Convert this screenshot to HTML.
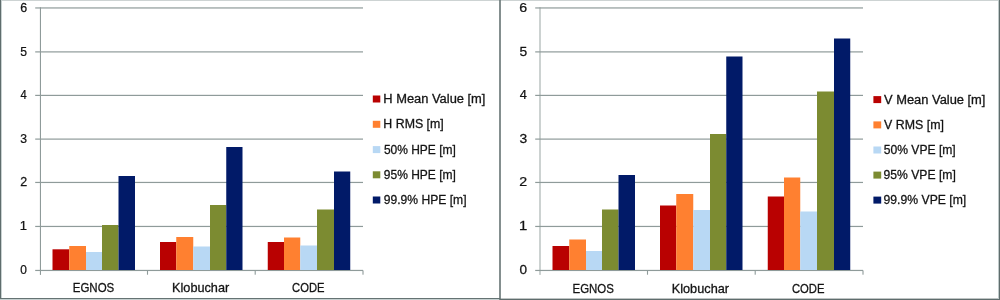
<!DOCTYPE html>
<html><head><meta charset="utf-8"><title>chart</title>
<style>
html,body{margin:0;padding:0;background:#fff;}
body{width:1000px;height:300px;overflow:hidden;}
svg{display:block;}
.tx{opacity:0.999;}
.t{font-family:"Liberation Sans",sans-serif;font-size:12px;fill:#141414;stroke:#141414;stroke-width:0.28px;}
.t.d{stroke-width:0.25px;}
</style></head><body>
<svg width="1000" height="300" viewBox="0 0 1000 300">
<rect width="1000" height="300" fill="#ffffff"/>
<g class="tx">
<rect x="35.2" y="269.85" width="327.8" height="1.2" fill="#8f9b9a"/>
<rect x="35.2" y="225.85" width="327.8" height="1.2" fill="#8f9b9a"/>
<rect x="35.2" y="181.85" width="327.8" height="1.2" fill="#8f9b9a"/>
<rect x="35.2" y="138.50" width="327.8" height="1.2" fill="#8f9b9a"/>
<rect x="35.2" y="94.80" width="327.8" height="1.2" fill="#8f9b9a"/>
<rect x="35.2" y="51.30" width="327.8" height="1.2" fill="#8f9b9a"/>
<rect x="35.2" y="7.35" width="327.8" height="1.2" fill="#8f9b9a"/>
<rect x="39.9" y="7.3" width="1.1" height="267.60" fill="#8f9b9a"/>
<rect x="146.95" y="270.4" width="1.1" height="4.3" fill="#8f9b9a"/>
<rect x="254.65" y="270.4" width="1.1" height="4.3" fill="#8f9b9a"/>
<rect x="362.45" y="270.4" width="1.1" height="4.3" fill="#8f9b9a"/>
<rect x="52.50" y="249.3" width="16.75" height="20.70" fill="#b90000"/>
<rect x="69.25" y="246" width="16.75" height="24.00" fill="#ff8030"/>
<rect x="86.00" y="252" width="16.00" height="18.00" fill="#b8d8f4"/>
<rect x="102.00" y="225" width="16.50" height="45.00" fill="#7c8b31"/>
<rect x="118.50" y="176" width="16.50" height="94.00" fill="#001a68"/>
<rect x="160.00" y="242" width="16.25" height="28.00" fill="#b90000"/>
<rect x="176.25" y="237" width="17.00" height="33.00" fill="#ff8030"/>
<rect x="193.25" y="246.5" width="16.75" height="23.50" fill="#b8d8f4"/>
<rect x="210.00" y="205" width="16.25" height="65.00" fill="#7c8b31"/>
<rect x="226.25" y="147" width="16.25" height="123.00" fill="#001a68"/>
<rect x="267.75" y="242" width="16.25" height="28.00" fill="#b90000"/>
<rect x="284.00" y="237.5" width="16.25" height="32.50" fill="#ff8030"/>
<rect x="300.25" y="245.5" width="16.75" height="24.50" fill="#b8d8f4"/>
<rect x="317.00" y="209.5" width="17.00" height="60.50" fill="#7c8b31"/>
<rect x="334.00" y="171.5" width="16.25" height="98.50" fill="#001a68"/>
<text transform="translate(20.30,274.40) scale(0.9913,1)" class="t d">0</text>
<text transform="translate(19.85,230.40) scale(1.0857,1)" class="t d">1</text>
<text transform="translate(20.15,186.40) scale(1.0364,1)" class="t d">2</text>
<text transform="translate(20.29,143.05) scale(1.0133,1)" class="t d">3</text>
<text transform="translate(20.57,99.35) scale(0.9306,1)" class="t d">4</text>
<text transform="translate(20.29,55.85) scale(1.0133,1)" class="t d">5</text>
<text transform="translate(20.15,11.90) scale(1.0364,1)" class="t d">6</text>
<text transform="translate(72.74,292.10) scale(0.9581,1)" class="t">EGNOS</text>
<text transform="translate(172.04,292.10) scale(1.0591,1)" class="t">Klobuchar</text>
<text transform="translate(292.12,292.10) scale(0.9343,1)" class="t">CODE</text>
<rect x="372.8" y="95.50" width="7.50" height="7.0" fill="#b90000"/>
<text transform="translate(383.33,102.90) scale(1.0745,1)" class="t">H Mean Value [m]</text>
<rect x="372.8" y="120.80" width="7.50" height="7.0" fill="#ff8030"/>
<text transform="translate(383.37,128.20) scale(1.0303,1)" class="t">H RMS [m]</text>
<rect x="372.8" y="146.10" width="7.50" height="7.0" fill="#b8d8f4"/>
<text transform="translate(383.90,153.50) scale(0.9996,1)" class="t">50% HPE [m]</text>
<rect x="372.8" y="171.30" width="7.50" height="7.0" fill="#7c8b31"/>
<text transform="translate(383.77,178.70) scale(1.0014,1)" class="t">95% HPE [m]</text>
<rect x="372.8" y="196.50" width="7.50" height="7.0" fill="#001a68"/>
<text transform="translate(383.77,203.90) scale(1.0099,1)" class="t">99.9% HPE [m]</text>
<rect x="535.2" y="269.85" width="327.8" height="1.2" fill="#8f9b9a"/>
<rect x="535.2" y="225.85" width="327.8" height="1.2" fill="#8f9b9a"/>
<rect x="535.2" y="181.85" width="327.8" height="1.2" fill="#8f9b9a"/>
<rect x="535.2" y="138.50" width="327.8" height="1.2" fill="#8f9b9a"/>
<rect x="535.2" y="94.80" width="327.8" height="1.2" fill="#8f9b9a"/>
<rect x="535.2" y="51.30" width="327.8" height="1.2" fill="#8f9b9a"/>
<rect x="535.2" y="7.35" width="327.8" height="1.2" fill="#8f9b9a"/>
<rect x="539.55" y="7.3" width="0.9" height="267.60" fill="#8f9b9a"/>
<rect x="646.95" y="270.4" width="1.1" height="4.3" fill="#8f9b9a"/>
<rect x="754.65" y="270.4" width="1.1" height="4.3" fill="#8f9b9a"/>
<rect x="862.45" y="270.4" width="1.1" height="4.3" fill="#8f9b9a"/>
<rect x="552.50" y="246" width="16.75" height="24.00" fill="#b90000"/>
<rect x="569.25" y="239.5" width="16.75" height="30.50" fill="#ff8030"/>
<rect x="586.00" y="251" width="16.00" height="19.00" fill="#b8d8f4"/>
<rect x="602.00" y="209.5" width="16.50" height="60.50" fill="#7c8b31"/>
<rect x="618.50" y="175" width="16.50" height="95.00" fill="#001a68"/>
<rect x="660.00" y="205.5" width="16.25" height="64.50" fill="#b90000"/>
<rect x="676.25" y="194" width="17.00" height="76.00" fill="#ff8030"/>
<rect x="693.25" y="210" width="16.75" height="60.00" fill="#b8d8f4"/>
<rect x="710.00" y="134" width="16.25" height="136.00" fill="#7c8b31"/>
<rect x="726.25" y="56.5" width="16.25" height="213.50" fill="#001a68"/>
<rect x="767.75" y="196.5" width="16.25" height="73.50" fill="#b90000"/>
<rect x="784.00" y="177.5" width="16.25" height="92.50" fill="#ff8030"/>
<rect x="800.25" y="211.5" width="16.75" height="58.50" fill="#b8d8f4"/>
<rect x="817.00" y="91.5" width="17.00" height="178.50" fill="#7c8b31"/>
<rect x="834.00" y="38.5" width="16.25" height="231.50" fill="#001a68"/>
<text transform="translate(519.53,274.40) scale(1.1304,1)" class="t d">0</text>
<text transform="translate(519.02,230.40) scale(1.2381,1)" class="t d">1</text>
<text transform="translate(519.36,186.40) scale(1.1818,1)" class="t d">2</text>
<text transform="translate(519.52,143.05) scale(1.1556,1)" class="t d">3</text>
<text transform="translate(519.83,99.35) scale(1.0612,1)" class="t d">4</text>
<text transform="translate(519.52,55.85) scale(1.1556,1)" class="t d">5</text>
<text transform="translate(519.36,11.90) scale(1.1818,1)" class="t d">6</text>
<text transform="translate(572.54,292.50) scale(0.9557,1)" class="t">EGNOS</text>
<text transform="translate(671.74,292.50) scale(1.0610,1)" class="t">Klobuchar</text>
<text transform="translate(791.91,292.50) scale(0.9403,1)" class="t">CODE</text>
<rect x="873.4" y="96.10" width="7.80" height="7.0" fill="#b90000"/>
<text transform="translate(884.07,103.50) scale(1.0738,1)" class="t">V Mean Value [m]</text>
<rect x="873.4" y="121.40" width="7.80" height="7.0" fill="#ff8030"/>
<text transform="translate(884.07,128.80) scale(1.0316,1)" class="t">V RMS [m]</text>
<rect x="873.4" y="146.50" width="7.80" height="7.0" fill="#b8d8f4"/>
<text transform="translate(883.69,153.90) scale(1.0114,1)" class="t">50% VPE [m]</text>
<rect x="873.4" y="171.60" width="7.80" height="7.0" fill="#7c8b31"/>
<text transform="translate(883.57,179.00) scale(1.0132,1)" class="t">95% VPE [m]</text>
<rect x="873.4" y="196.60" width="7.80" height="7.0" fill="#001a68"/>
<text transform="translate(883.56,204.00) scale(1.0166,1)" class="t">99.9% VPE [m]</text>

</g>

<rect x="0" y="0" width="1000" height="1" fill="#cdd3d3"/>
<rect x="0" y="0" width="1" height="300" fill="#5f6d6d"/>
<rect x="1" y="0" width="1" height="298" fill="#c9d2d2"/>
<rect x="0" y="298" width="500" height="1" fill="#657373"/>
<rect x="0" y="299" width="500" height="1" fill="#c5d0d0"/>
<rect x="499.2" y="0" width="1.6" height="300" fill="#677474"/>
<rect x="500" y="298.6" width="500" height="1.4" fill="#5f6d6d"/>
<rect x="999" y="0" width="1" height="300" fill="#5f6d6d"/>
<rect x="998" y="0" width="1" height="299" fill="#c0caca"/>

</svg>
</body></html>
